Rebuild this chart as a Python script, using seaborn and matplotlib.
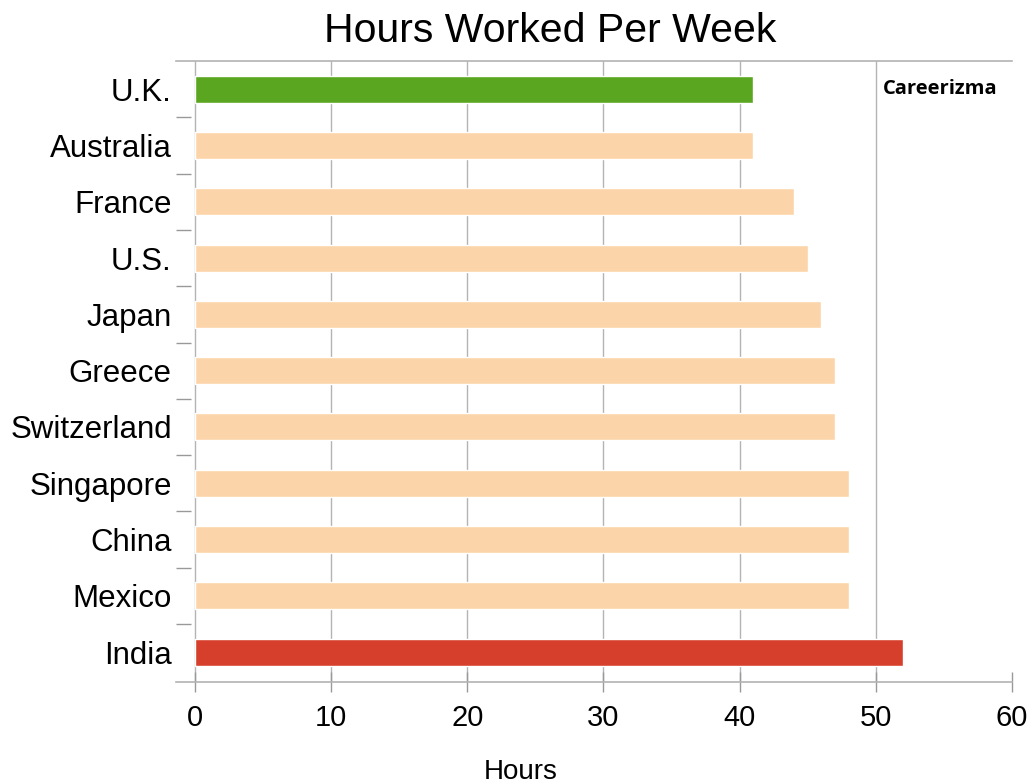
import matplotlib
matplotlib.use("Agg")
import matplotlib.pyplot as plt
import seaborn as sns
import pandas as pd
import numpy as np

countries = ["U.K.", "Australia", "France", "U.S.", "Japan", "Greece",
             "Switzerland", "Singapore", "China", "Mexico", "India"]
hours = [41, 41, 44, 45, 46, 47, 47, 48, 48, 48, 52]
x_ticks = [0, 10, 20, 30, 40, 50, 60]

peach = "#fcd4a9"
colors = {c: peach for c in countries}
colors["U.K."] = "#5ba620"
colors["India"] = "#d63f2b"

df = pd.DataFrame({"country": countries, "hours": hours})

sns.set_style("white")
plt.rcParams["font.family"] = ["Liberation Sans", "DejaVu Sans"]
plt.rcParams["text.color"] = "black"
plt.rcParams["xtick.labelcolor"] = "black"
plt.rcParams["ytick.labelcolor"] = "black"
plt.rcParams["axes.labelcolor"] = "black"

fig = plt.figure(figsize=(10.32, 7.84), dpi=100)
ax = fig.add_axes([0.1705, 0.1301, 0.8101, 0.7921])

# grid first so bars sit on top
ax.set_axisbelow(True)
sns.barplot(data=df, y="country", x="hours", hue="country", palette=colors,
            order=countries, width=0.48, legend=False, ax=ax, saturation=1)

ax.set_xlim(-1.4, 60)
ax.set_ylim(10.53, -0.5)
ax.set_xticks(x_ticks)
ax.xaxis.grid(True, color="#b3b3b3", linewidth=1)
ax.xaxis.get_gridlines()[-1].set_visible(False)

# tick marks between categories on the y axis
ax.set_yticks(np.arange(0.5, len(countries) - 1, 1), minor=True)
ax.tick_params(axis="y", which="major", length=0, pad=3, labelsize=22.5)
ax.tick_params(axis="y", which="minor", left=True, direction="in",
               length=11, width=1, color="#999999")
ax.tick_params(axis="x", which="major", bottom=True, direction="inout",
               length=14, width=1, color="#999999", pad=9, labelsize=21)

for side in ["left", "right"]:
    ax.spines[side].set_visible(False)
for side in ["top", "bottom"]:
    ax.spines[side].set_color("#b3b3b3")
    ax.spines[side].set_linewidth(1.2)

ax.set_ylabel("")
ax.set_xlabel("Hours", fontsize=20)
ax.xaxis.set_label_coords(0.412, -0.124)
fig.suptitle("Hours Worked Per Week", fontsize=29.5, x=0.533, y=0.985)

ax.text(0.983, 0.955, "Careerizma", transform=ax.transAxes, ha="right",
        va="center", fontsize=14.5, fontweight="bold", family="Open Sans",
        color="black")

fig.savefig("out.png", dpi=100)
